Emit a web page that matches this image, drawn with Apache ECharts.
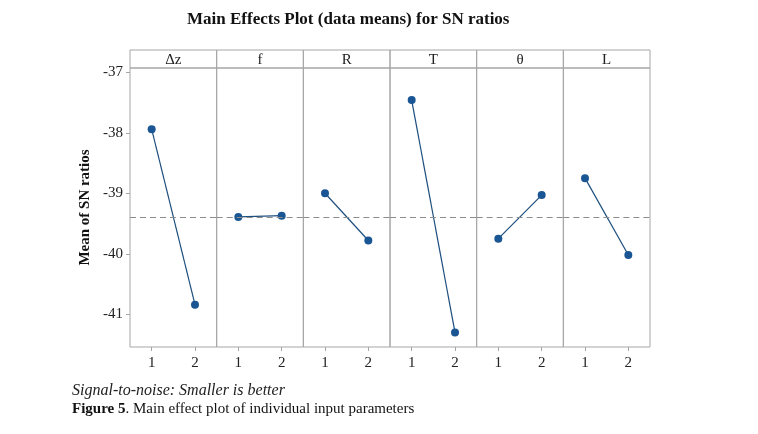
<!DOCTYPE html>
<html>
<head>
<meta charset="utf-8">
<script src="https://cdn.jsdelivr.net/npm/echarts@6/dist/echarts.min.js"></script>
<style>
  html, body { margin: 0; padding: 0; background: #fff; }
  #chart { width: 758px; height: 434px; }
</style>
</head>
<body>
<div id="chart"></div>
<script>
const factors = ['Δz', 'f', 'R', 'T', 'θ', 'L'];
const levels = ['1', '2'];
const means = [
  [-37.94, -40.84],
  [-39.39, -39.37],
  [-39.00, -39.78],
  [-37.46, -41.30],
  [-39.75, -39.03],
  [-38.75, -40.02]
];
const grandMean = -39.39;
const yTicks = [-41, -40, -39, -38, -37];

const serif = '"Liberation Serif", "DejaVu Serif", serif';
const left0 = 130, top0 = 68, plotH = 279, panelW = 520 / factors.length, headH = 18;
const gridCol = '#a6a6a6';

const grids = [], xAxes = [], yAxes = [], series = [], graphics = [];

factors.forEach((name, i) => {
  const left = left0 + i * panelW;
  grids.push({ left: left, top: top0, width: panelW, height: plotH, show: true, borderColor: gridCol, borderWidth: 1, backgroundColor: 'transparent' });
  xAxes.push({
    type: 'category', gridIndex: i, data: levels, boundaryGap: true,
    axisLine: { show: false },
    axisTick: { show: true, alignWithLabel: true, length: 4, lineStyle: { color: gridCol } },
    axisLabel: { color: '#222', fontFamily: serif, fontSize: 15, margin: 9 }
  });
  yAxes.push({
    type: 'value', gridIndex: i, min: -41.54, max: -36.93,
    axisLine: { show: false },
    splitLine: { show: false },
    axisTick: { show: i === 0, length: 4, lineStyle: { color: gridCol }, customValues: yTicks },
    axisLabel: { show: i === 0, color: '#222', fontFamily: serif, fontSize: 15, margin: 7, customValues: yTicks },
    name: i === 0 ? 'Mean of SN ratios' : '',
    nameLocation: 'middle', nameGap: 37, nameRotate: 90,
    nameTextStyle: { color: '#111', fontFamily: serif, fontSize: 15, fontWeight: 'bold' }
  });
  series.push({
    type: 'line', xAxisIndex: i, yAxisIndex: i, data: means[i],
    symbol: 'circle', symbolSize: 8,
    lineStyle: { color: '#1e4f7e', width: 1.2 },
    itemStyle: { color: '#1a5694' },
    markLine: {
      silent: true, symbol: 'none', label: { show: false },
      lineStyle: { color: '#8c8c8c', type: [6, 4], width: 1 },
      data: [{ yAxis: grandMean }]
    },
    animation: false
  });
  graphics.push({
    type: 'rect', shape: { x: left, y: top0 - headH, width: panelW, height: headH },
    style: { fill: 'none', stroke: gridCol, lineWidth: 1 }
  });
  graphics.push({
    type: 'text', x: left + panelW / 2, y: top0 - headH / 2 + 1,
    style: { text: name, fill: '#222', font: '15px ' + serif, align: 'center', verticalAlign: 'middle' }
  });
});

graphics.push({
  type: 'text', left: 187, top: 11,
  style: { text: 'Main Effects Plot (data means) for SN ratios', fill: '#111', font: 'bold 17px ' + serif }
});
graphics.push({
  type: 'text', left: 72, top: 383,
  style: { text: 'Signal-to-noise: Smaller is better', fill: '#222', font: 'italic 16px ' + serif }
});
graphics.push({
  type: 'text', left: 72, top: 402,
  style: {
    text: '{b|Figure 5}. Main effect plot of individual input parameters',
    fill: '#111', font: '15px ' + serif,
    rich: { b: { fontWeight: 'bold', fontFamily: serif, fontSize: 15, fill: '#111' } }
  }
});

const chart = echarts.init(document.getElementById('chart'));
chart.setOption({
  animation: false,
  grid: grids,
  xAxis: xAxes,
  yAxis: yAxes,
  series: series,
  graphic: graphics
});
</script>
</body>
</html>
